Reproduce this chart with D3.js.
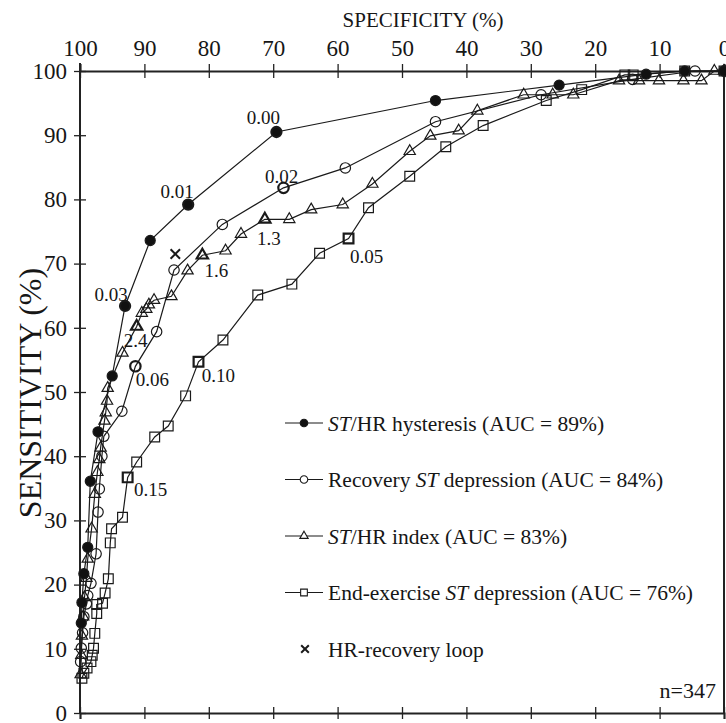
<!DOCTYPE html>
<html lang="en">
<head>
<meta charset="utf-8">
<title>ROC curves</title>
<script src="https://cdn.jsdelivr.net/npm/d3@7"></script>
<style>
  body { margin: 0; background: #fff; }
  svg text { font-family: "Liberation Serif", "Times New Roman", serif; fill: #161616; }
</style>
</head>
<body>
<script>
// [specificity %, sensitivity %]
var hysteresis = [[99.8,14],[99.7,17.2],[99.4,21.7],[98.8,25.8],[98.4,36.1],[97.2,43.8],[95.0,52.5],
  [93.0,63.4],[89.1,73.6],[83.2,79.2],[69.5,90.5],[44.8,95.4],[25.6,97.8],[12.1,99.5],[6.1,100],[0,100]];

var recovery = [[99.9,8],[99.8,10.1],[99.6,12.5],[99.4,15],[99.0,17],[98.8,18.3],[98.3,20.2],[97.5,24.8],
  [97.2,31.3],[97.0,34.9],[96.6,40],[96.3,43.1],[93.5,47.0],[91.4,54.0],[88.1,59.4],[85.4,69.0],
  [77.9,76.1],[68.4,81.8],[58.8,84.9],[44.8,92.1],[28.4,96.3],[14.2,98.7],[4.5,100],[0,100]];

var stIndex = [[99.9,6],[99.8,9],[99.7,12],[99.5,15],[99.3,18],[99.0,21],[98.8,24],[98.2,28.7],
  [97.7,34.1],[97.3,37.5],[97.0,39.5],[96.8,41.3],[96.2,45.5],[96.0,46.8],[95.8,48.6],[95.7,50.6],
  [93.4,56.1],[91.2,60.2],[90.4,62.3],[89.7,62.9],[89.3,63.6],[88.5,64.3],[85.8,64.9],[83.3,68.9],
  [81.0,71.3],[77.4,72.0],[75.0,74.6],[71.3,76.9],[67.5,76.9],[64.1,78.4],[59.2,79.2],[54.6,82.4],
  [48.8,87.5],[45.6,89.9],[41.2,90.7],[38.3,93.8],[31.1,96.3],[26.6,96.3],[23.4,96.3],[16.3,98.5],
  [13.2,98.5],[10.1,98.5],[6.3,98.5],[3.5,98.5],[1.5,100],[0,100]];

var endExercise = [[99.7,5.4],[99.4,6.2],[98.9,7.0],[98.3,8.0],[98.1,9.0],[97.9,10.1],[97.7,12.4],
  [97.4,15.5],[97.4,16.9],[96.5,17.1],[96.1,18.7],[95.6,20.9],[95.3,26.5],[95.1,28.7],[93.4,30.5],
  [92.6,36.7],[91.2,39.1],[88.4,43.0],[86.3,44.7],[83.6,49.4],[81.6,54.7],[77.8,58.1],[72.4,65.1],
  [67.1,66.8],[62.8,71.6],[58.3,73.9],[55.2,78.7],[48.8,83.6],[43.2,88.2],[37.4,91.5],[27.6,95.4],
  [22.1,97.1],[15.4,99.4],[14.1,99.4],[6.1,100],[0,100]];

var hrLoop = [[85.2,71.5]];

var seriesNames = ["ST/HR hysteresis (AUC = 89%)", "Recovery ST depression (AUC = 84%)",
  "ST/HR index (AUC = 83%)", "End-exercise ST depression (AUC = 76%)", "HR-recovery loop"];

// cut-off values printed beside some points: [series, spec, sens, text]
var cutoffs = [["hyst",69.5,90.5,"0.00"],["hyst",83.2,79.2,"0.01"],["hyst",93.0,63.4,"0.03"],
  ["rec",68.4,81.8,"0.02"],["rec",91.4,54.0,"0.06"],
  ["idx",71.3,76.9,"1.3"],["idx",81.0,71.3,"1.6"],["idx",91.2,60.2,"2.4"],
  ["end",58.3,73.9,"0.05"],["end",81.6,54.7,"0.10"],["end",92.6,36.7,"0.15"]];
// label offsets in pixels, same order
var cutoffOffsets = [[-13,-8],[-11,-7],[-14,-5],[-2,-5],[17,20],[4,26],[14,22],[-1,20],[18,24],[20,20],[23,19]];

var specTicks = [100,90,80,70,60,50,40,30,20,10,0];
var sensTicks = [0,10,20,30,40,50,60,70,80,90,100];

var w = 726, h = 723;
var plotL = 80, plotR = 724, plotT = 71, plotB = 713;

var svg = d3.select("body").append("svg").attr("width", w).attr("height", h);

var x = d3.scaleLinear().domain([100,0]).range([plotL,plotR]);
var y = d3.scaleLinear().domain([0,100]).range([plotB,plotT]);

// axes
var topAxis = svg.append("g").attr("transform","translate(0,"+plotT+")")
  .call(d3.axisTop(x).tickValues(specTicks).tickSize(7).tickPadding(8).tickFormat(d3.format("d")));
var bottomAxis = svg.append("g").attr("transform","translate(0,"+plotB+")")
  .call(d3.axisBottom(x).tickValues(specTicks).tickSize(6).tickFormat(""));
var leftAxis = svg.append("g").attr("transform","translate("+plotL+",0)")
  .call(d3.axisLeft(y).tickValues(sensTicks).tickSize(6).tickPadding(7).tickFormat(d3.format("d")));

[topAxis,bottomAxis,leftAxis].forEach(function(g) {
  g.select(".domain").attr("stroke","#222").attr("stroke-width",2);
  g.selectAll(".tick line").attr("stroke","#222").attr("stroke-width",1.3);
  g.selectAll("text").style("font-size","23px").attr("fill","#161616");
});
// ticks cross the axis lines
topAxis.selectAll(".tick line").attr("y1",7).attr("y2",-7);
bottomAxis.selectAll(".tick line").attr("y1",-6).attr("y2",6);
leftAxis.selectAll(".tick line").attr("x1",6).attr("x2",-6);
leftAxis.select(".domain").attr("d","M0,"+(plotT-8)+"V"+plotB);
// right frame
svg.append("line").attr("x1",plotR).attr("x2",plotR).attr("y1",plotT).attr("y2",plotB)
  .attr("stroke","#222").attr("stroke-width",2);

svg.append("text").attr("x",423).attr("y",27).attr("text-anchor","middle")
  .style("font-size","21px").text("SPECIFICITY (%)");
svg.append("text").attr("transform","translate(41,393) rotate(-90)").attr("text-anchor","middle")
  .style("font-size","32px").text("SENSITIVITY (%)");

var line = d3.line().x(function(d){ return x(d[0]); }).y(function(d){ return y(d[1]); });

var sym = {
  hyst: d3.symbol().type(d3.symbolCircle).size(80),
  rec: d3.symbol().type(d3.symbolCircle).size(85),
  idx: d3.symbol().type(d3.symbolTriangle).size(55),
  end: d3.symbol().type(d3.symbolSquare).size(95)
};
var series = [
  {key:"end", data:endExercise, fill:"none"},
  {key:"idx", data:stIndex, fill:"none"},
  {key:"rec", data:recovery, fill:"none"},
  {key:"hyst", data:hysteresis, fill:"#111"}
];

function isLabelled(key, d) {
  return cutoffs.some(function(c){ return c[0]===key && c[1]===d[0] && c[2]===d[1]; });
}

series.forEach(function(s) {
  svg.append("path").datum(s.data).attr("d",line)
    .attr("fill","none").attr("stroke","#1a1a1a").attr("stroke-width",1.2);
  svg.selectAll(null).data(s.data).enter().append("path")
    .attr("transform",function(d){ return "translate("+x(d[0])+","+y(d[1])+")"; })
    .attr("d",sym[s.key])
    .attr("fill",s.fill)
    .attr("stroke","#1a1a1a")
    .attr("stroke-width",function(d){ return isLabelled(s.key,d) ? 2.2 : 1.2; });
});

// HR-recovery loop
svg.selectAll(null).data(hrLoop).enter().append("path")
  .attr("transform",function(d){ return "translate("+x(d[0])+","+y(d[1])+")"; })
  .attr("d",d3.symbol().type(d3.symbolX).size(60))
  .attr("stroke","#1a1a1a").attr("stroke-width",2).attr("fill","none");

// cut-off labels
svg.selectAll(null).data(cutoffs).enter().append("text")
  .attr("x",function(d,i){ return x(d[1]) + cutoffOffsets[i][0]; })
  .attr("y",function(d,i){ return y(d[2]) + cutoffOffsets[i][1]; })
  .attr("text-anchor","middle")
  .style("font-size","19px")
  .text(function(d){ return d[3]; });

// legend
var legKeys = ["hyst","rec","idx","end","x"];
var leg = svg.append("g");
legKeys.forEach(function(k,i) {
  var cy = 423 + i*56.5;
  if (k !== "x") {
    leg.append("line").attr("x1",285).attr("x2",323).attr("y1",cy).attr("y2",cy)
      .attr("stroke","#1a1a1a").attr("stroke-width",1.2);
    var small = {hyst:d3.symbolCircle, rec:d3.symbolCircle, idx:d3.symbolTriangle, end:d3.symbolSquare}[k];
    leg.append("path").attr("transform","translate(304,"+cy+")")
      .attr("d",d3.symbol().type(small).size(k==="idx"?30:45))
      .attr("fill",k==="hyst"?"#111":"#fff").attr("stroke","#1a1a1a").attr("stroke-width",1.1);
  } else {
    leg.append("path").attr("transform","translate(305,"+cy+")")
      .attr("d",d3.symbol().type(d3.symbolX).size(40))
      .attr("fill","none").attr("stroke","#1a1a1a").attr("stroke-width",2);
  }
  var t = leg.append("text").attr("x",328).attr("y",cy).attr("dy","0.35em").style("font-size","21.5px");
  var name = seriesNames[i];
  var parts = name.split("ST");
  parts.forEach(function(p,j) {
    if (j > 0) t.append("tspan").style("font-style","italic").text("ST");
    t.append("tspan").text(p);
  });
});

svg.append("text").attr("x",716).attr("y",698).attr("text-anchor","end")
  .style("font-size","22px").text("n=347");
</script>
</body>
</html>
